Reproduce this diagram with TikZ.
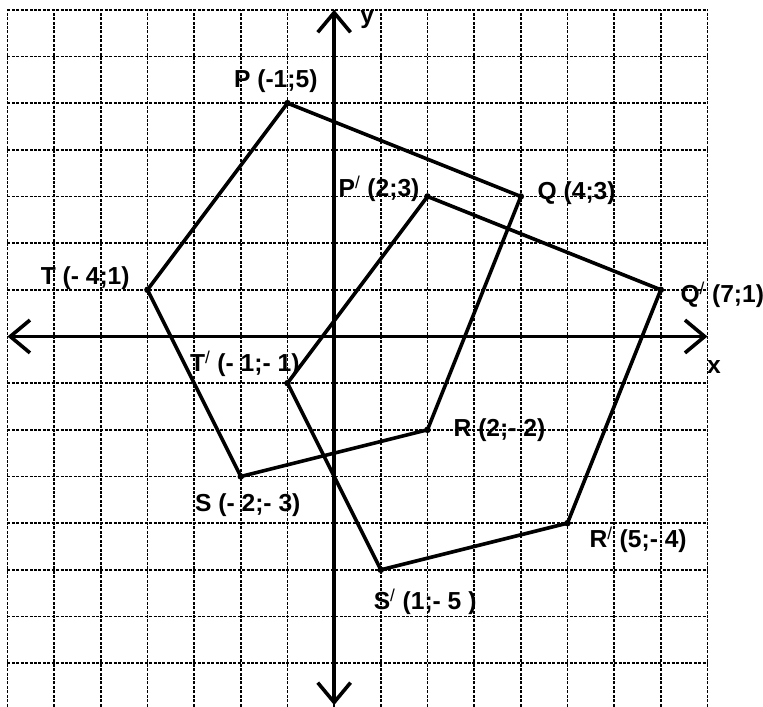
\documentclass[tikz,border=0pt]{standalone}
\usepackage{fontspec}
\setmainfont{Liberation Sans}
\usetikzlibrary{arrows.meta}
\tikzset{
    gridline/.style={draw=black, line width=0.9pt, dash pattern=on 1.8pt off 0.9pt},
    axis/.style={draw=black, line width=2.2pt, {Straight Barb[length=12pt,width=20pt]}-{Straight Barb[length=12pt,width=20pt]}},
    figure/.style={draw=black, line width=2.2pt, line join=round},
    coordlabel/.style={inner sep=0pt, font=\fontsize{15}{17}\selectfont\bfseries}
}
\newcommand{\slashprime}{\textsuperscript{\mdseries /}}

\begin{document}
\begin{tikzpicture}[x=1cm, y=1cm, line width=0.7pt]
        \useasboundingbox (-7.16,-7.93) rectangle (9.19,7.21);

        % -----------------------------------------------------------------
        % GRIGLIA
        % -----------------------------------------------------------------
        \foreach \x in {-7,...,8} {
            \draw[gridline] (\x,-7.93) -- (\x,7);
        }
        \foreach \y in {-7,...,7} {
            \draw[gridline] (-7,\y) -- (8,\y);
        }

        % -----------------------------------------------------------------
        % ASSI
        % -----------------------------------------------------------------
        \coordinate (xmin) at (-7,0);
        \coordinate (xmax) at (8,0);
        \coordinate (ymin) at (0,-7.9);
        \coordinate (ymax) at (0,7);
        \draw[axis] (xmin) -- (xmax);
        \draw[axis] (ymin) -- (ymax);
        \node[coordlabel] (xlab) at (8.14,-0.65) {x};
        \node[coordlabel] (ylab) at (0.71,6.79) {y};

        % -----------------------------------------------------------------
        % PENTAGONO PQRST
        % -----------------------------------------------------------------
        \coordinate (P) at (-1,5);
        \coordinate (Q) at (4,3);
        \coordinate (R) at (2,-2);
        \coordinate (S) at (-2,-3);
        \coordinate (T) at (-4,1);
        \draw[figure] (P) -- (Q) -- (R) -- (S) -- (T) -- cycle;

        % -----------------------------------------------------------------
        % IMMAGINE P'Q'R'S'T'
        % -----------------------------------------------------------------
        \coordinate (Pimg) at (2,3);
        \coordinate (Qimg) at (7,1);
        \coordinate (Rimg) at (5,-4);
        \coordinate (Simg) at (1,-5);
        \coordinate (Timg) at (-1,-1);
        \draw[figure] (Pimg) -- (Qimg) -- (Rimg) -- (Simg) -- (Timg) -- cycle;

        \foreach \v in {P,Q,R,S,T,Pimg,Qimg,Rimg,Simg,Timg} {
            \fill (\v) circle (2pt);
        }

        % -----------------------------------------------------------------
        % ETICHETTE
        % -----------------------------------------------------------------
        \node[coordlabel, anchor=base] (labP) at (-1.25,5.33) {P (-1;5)};
        \node[coordlabel, anchor=base west] (labQ) at (4.35,2.93) {Q (4;3)};
        \node[coordlabel, anchor=base west] (labR) at (2.55,-2.15) {R (2;- 2)};
        \node[coordlabel, anchor=base] (labS) at (-1.85,-3.76) {S (- 2;- 3)};
        \node[coordlabel, anchor=base east] (labT) at (-4.37,1.11) {T (- 4;1)};

        \node[coordlabel, anchor=base east] (labPimg) at (1.84,2.99) {P\slashprime{} (2;3)};
        \node[coordlabel, anchor=base west] (labQimg) at (7.41,0.72) {Q\slashprime{} (7;1)};
        \node[coordlabel, anchor=base west] (labRimg) at (5.46,-4.53) {R\slashprime{} (5;- 4)};
        \node[coordlabel, anchor=base] (labSimg) at (1.95,-5.86) {S\slashprime{} (1;- 5 )};
        \node[coordlabel, anchor=base east] (labTimg) at (-0.73,-0.76) {T\slashprime{} (- 1;- 1)};

\end{tikzpicture}
\end{document}
